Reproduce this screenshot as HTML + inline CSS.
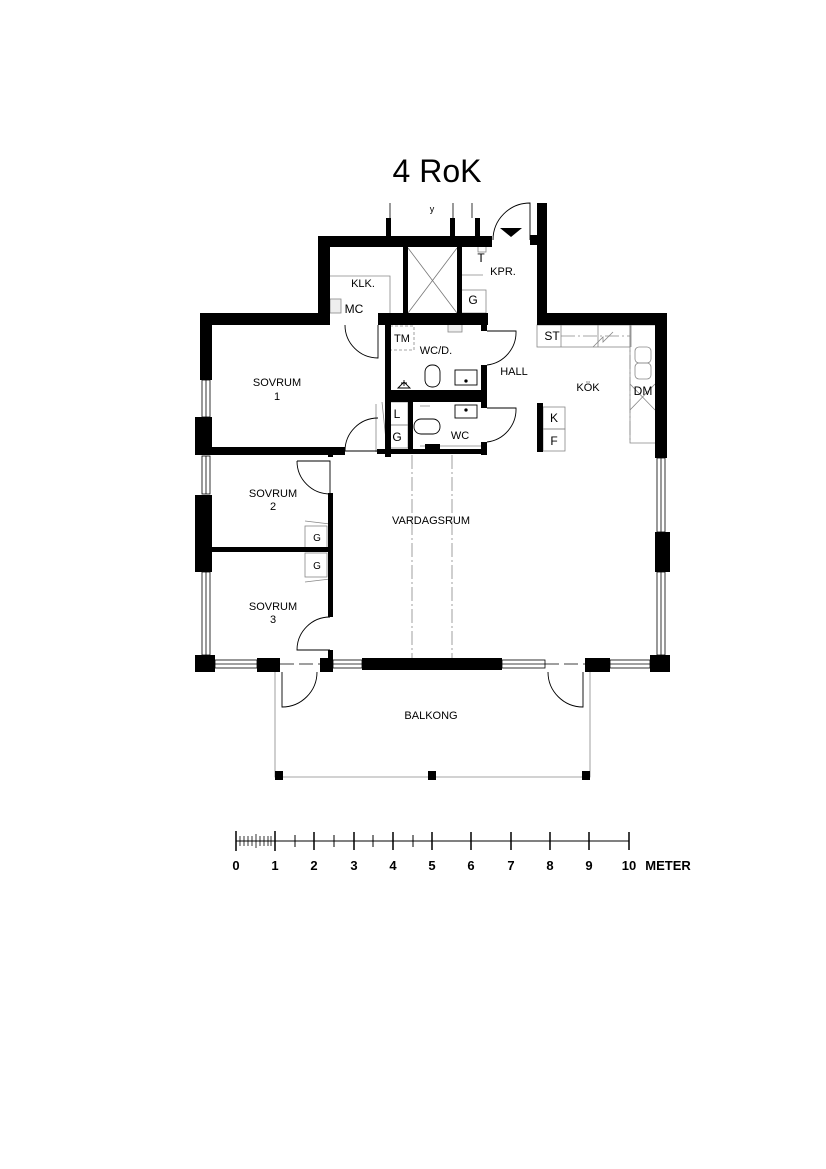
<!DOCTYPE html>
<html><head><meta charset="utf-8"><style>
html,body{margin:0;padding:0;background:#fff}
svg{display:block}
text{font-family:"Liberation Sans",Arial,sans-serif;fill:#000}
.l{font-size:11px}
</style></head><body>
<svg width="826" height="1169" viewBox="0 0 826 1169" xmlns="http://www.w3.org/2000/svg">
<rect width="826" height="1169" fill="#fff"/>
<text x="437" y="182" font-size="32" text-anchor="middle">4 RoK</text>

<!-- thin gray fittings -->
<g fill="none" stroke="#888" stroke-width="0.8">
 <path d="M330 276 H390 V313"/>
 <rect x="330" y="299" width="11" height="14" fill="#eee"/>
 <rect x="458" y="290" width="28" height="23"/>
 <path d="M461 252 V275 H483"/>
 <rect x="478" y="246" width="8" height="6"/>
 <rect x="390" y="326" width="24" height="24" stroke-dasharray="3,2"/>
 <rect x="448" y="324" width="14" height="8" fill="#eee"/>
 <path d="M382 402 L387 450 M376 404 V452"/>
 <rect x="388" y="402" width="20" height="23"/><rect x="388" y="425" width="20" height="23"/>
 <rect x="537" y="325" width="93" height="22"/>
 <path d="M630 325 V443 H655 M630 325 H655"/>
 <path d="M561 347 V325 M598 347 V325 M631 347 V325" />
 <path d="M630 384 L655 410 M655 384 L630 410"/>
 <rect x="635" y="347" width="16" height="16" rx="4"/><rect x="635" y="363" width="16" height="16" rx="4"/>
 <path d="M593 347 L603 337 L603 342 L613 332"/>
 <rect x="543" y="407" width="22" height="22"/><rect x="543" y="429" width="22" height="22"/>
 <rect x="305" y="526" width="22" height="23"/><rect x="305" y="553" width="22" height="24"/>
 <path d="M305 521 L330 524 M305 582 L330 579"/>
 <path d="M275 672 V777 H590 V672"/>
 <path d="M420 406 H430 M420 446 H485" />
</g>
<g fill="none" stroke="#888" stroke-width="0.8" stroke-dasharray="14,3,2,3">
 <path d="M412 455 V658 M452 455 V658"/>
 <path d="M561 336 H630 V443"/>
</g>
<path d="M408 248 L457 313 M457 248 L408 313" stroke="#777" stroke-width="0.8"/>

<!-- walls -->
<g fill="#000">
 <rect x="318" y="236" width="174" height="11"/>
 <rect x="318" y="236" width="12" height="89"/>
 <rect x="200" y="313" width="130" height="12"/>
 <rect x="200" y="313" width="12" height="67"/>
 <rect x="195" y="417" width="17" height="38"/>
 <rect x="195" y="495" width="17" height="77"/>
 <rect x="195" y="655" width="20" height="17"/>
 <rect x="257" y="658" width="23" height="14"/>
 <rect x="320" y="658" width="13" height="14"/>
 <rect x="362" y="658" width="140" height="12"/>
 <rect x="585" y="658" width="25" height="14"/>
 <rect x="650" y="655" width="20" height="17"/>
 <rect x="655" y="313" width="12" height="145"/>
 <rect x="655" y="532" width="15" height="40"/>
 <rect x="537" y="313" width="130" height="12"/>
 <rect x="537" y="203" width="10" height="122"/>
 <rect x="530" y="235" width="8" height="10"/>
 <rect x="386" y="218" width="5" height="19"/>
 <rect x="450" y="218" width="5" height="19"/>
 <rect x="475" y="218" width="5" height="19"/>
 <rect x="403" y="246" width="5" height="67"/>
 <rect x="457" y="246" width="5" height="67"/>
 <rect x="378" y="313" width="110" height="12"/>
 <rect x="385" y="313" width="6" height="144"/>
 <rect x="385" y="390" width="101" height="12"/>
 <rect x="481" y="313" width="6" height="18"/>
 <rect x="481" y="365" width="6" height="43"/>
 <rect x="481" y="442" width="6" height="13"/>
 <rect x="408" y="402" width="5" height="50"/>
 <rect x="377" y="449" width="108" height="5"/>
 <rect x="425" y="444" width="15" height="10"/>
 <rect x="200" y="447" width="145" height="8"/>
 <rect x="328" y="447" width="5" height="10"/>
 <rect x="212" y="547" width="121" height="5"/>
 <rect x="328" y="493" width="5" height="124"/>
 <rect x="328" y="650" width="5" height="8"/>
 <rect x="537" y="403" width="6" height="49"/>
 <path d="M500 228 H522 L511 237 Z"/>
 <rect x="275" y="771" width="8" height="9"/><rect x="428" y="771" width="8" height="9"/><rect x="582" y="771" width="8" height="9"/>
</g>
<!-- windows -->
<g fill="none" stroke="#000" stroke-width="0.8">
 <rect x="202" y="380" width="8" height="37"/><line x1="206" y1="380" x2="206" y2="417"/>
 <rect x="202" y="456" width="8" height="38"/><line x1="206" y1="456" x2="206" y2="494"/>
 <rect x="202" y="572" width="8" height="83"/><line x1="206" y1="572" x2="206" y2="655"/>
 <rect x="657" y="458" width="8" height="74"/><line x1="661" y1="458" x2="661" y2="532"/>
 <rect x="657" y="572" width="8" height="83"/><line x1="661" y1="572" x2="661" y2="655"/>
 <rect x="215" y="660" width="42" height="8"/><line x1="215" y1="664" x2="257" y2="664"/>
 <rect x="333" y="660" width="29" height="8"/><line x1="333" y1="664" x2="362" y2="664"/>
 <rect x="502" y="660" width="43" height="8"/><line x1="502" y1="664" x2="545" y2="664"/>
 <rect x="610" y="660" width="40" height="8"/><line x1="610" y1="664" x2="650" y2="664"/>
 <line x1="390" y1="203" x2="390" y2="218"/><line x1="472" y1="203" x2="472" y2="218"/>
 <line x1="453" y1="203" x2="453" y2="218"/>
</g>
<!-- doors -->
<g fill="none" stroke="#000" stroke-width="0.9">
 <path d="M493 240 A37 37 0 0 1 530 203 V240"/>
 <path d="M345 325 A33 33 0 0 0 378 358 V325"/>
 <path d="M487 331 H516 A33 33 0 0 1 487 365"/>
 <path d="M487 408 H516 A33 33 0 0 1 487 442"/>
 <path d="M378 418 A33 33 0 0 0 345 451 H378"/>
 <path d="M297 461 A33 33 0 0 0 330 494 V461 H297"/>
 <path d="M330 617 A33 33 0 0 0 297 650 H330"/>
 <path d="M317 672 A35 35 0 0 1 282 707 V672"/>
 <path d="M548 672 A35 35 0 0 0 583 707 V672"/>
 <rect x="425" y="365" width="15" height="22" rx="7"/>
 <rect x="455" y="370" width="22" height="15"/><circle cx="466" cy="381" r="1.2" fill="#000"/>
 <rect x="455" y="405" width="22" height="13"/><circle cx="466" cy="410" r="1.2" fill="#000"/>
 <rect x="414" y="419" width="26" height="15" rx="7"/>
 <path d="M398 388 L404 382 L410 388 Z M404 380 V386 M401 383 H407"/>
</g>
<g stroke="#000" stroke-width="0.8" stroke-dasharray="14,5">
 <line x1="280" y1="664" x2="320" y2="664"/><line x1="545" y1="664" x2="585" y2="664"/>
</g>

<!-- labels -->
<g class="l">
<text x="363" y="287" text-anchor="middle">KLK.</text>
<text x="354" y="313" text-anchor="middle" font-size="12">MC</text>
<text x="481" y="262" text-anchor="middle" font-size="12">T</text>
<text x="503" y="275" text-anchor="middle">KPR.</text>
<text x="473" y="304" text-anchor="middle" font-size="12">G</text>
<text x="402" y="342" text-anchor="middle" font-size="11">TM</text>
<text x="436" y="354" text-anchor="middle">WC/D.</text>
<text x="514" y="375" text-anchor="middle">HALL</text>
<text x="588" y="391" text-anchor="middle">KÖK</text>
<text x="552" y="340" text-anchor="middle" font-size="12">ST</text>
<text x="643" y="395" text-anchor="middle" font-size="12">DM</text>
<text x="554" y="422" text-anchor="middle" font-size="12">K</text>
<text x="554" y="445" text-anchor="middle" font-size="12">F</text>
<text x="397" y="418" text-anchor="middle" font-size="12">L</text>
<text x="397" y="441" text-anchor="middle" font-size="12">G</text>
<text x="460" y="439" text-anchor="middle">WC</text>
<text x="277" y="386" text-anchor="middle">SOVRUM</text>
<text x="277" y="400" text-anchor="middle">1</text>
<text x="273" y="497" text-anchor="middle">SOVRUM</text>
<text x="273" y="510" text-anchor="middle">2</text>
<text x="273" y="610" text-anchor="middle">SOVRUM</text>
<text x="273" y="623" text-anchor="middle">3</text>
<text x="431" y="524" text-anchor="middle">VARDAGSRUM</text>
<text x="431" y="719" text-anchor="middle">BALKONG</text>
<text x="317" y="541" text-anchor="middle" fill="#888" font-size="10">G</text>
<text x="317" y="569" text-anchor="middle" fill="#888" font-size="10">G</text>
<text x="432" y="212" text-anchor="middle" font-size="9">y</text>
</g>

<!-- scale -->
<g stroke="#000" stroke-width="1">
 <line x1="236" y1="841" x2="629" y2="841"/>
 <line x1="236" y1="831" x2="236" y2="851" stroke-width="1.5"/>
 <line x1="275" y1="831" x2="275" y2="851" stroke-width="1.5"/>
 <line x1="314" y1="832" x2="314" y2="850" stroke-width="1.5"/>
 <line x1="354" y1="832" x2="354" y2="850" stroke-width="1.5"/>
 <line x1="393" y1="832" x2="393" y2="850" stroke-width="1.5"/>
 <line x1="432" y1="832" x2="432" y2="850" stroke-width="1.5"/>
 <line x1="471" y1="832" x2="471" y2="850" stroke-width="1.5"/>
 <line x1="511" y1="832" x2="511" y2="850" stroke-width="1.5"/>
 <line x1="550" y1="832" x2="550" y2="850" stroke-width="1.5"/>
 <line x1="589" y1="832" x2="589" y2="850" stroke-width="1.5"/>
 <line x1="629" y1="832" x2="629" y2="850" stroke-width="1.5"/>
 <line x1="295" y1="835" x2="295" y2="847"/><line x1="334" y1="835" x2="334" y2="847"/>
 <line x1="373" y1="835" x2="373" y2="847"/><line x1="413" y1="835" x2="413" y2="847"/>
 <g stroke-width="0.8">
 <line x1="240" y1="836" x2="240" y2="846"/><line x1="244" y1="836" x2="244" y2="846"/>
 <line x1="248" y1="836" x2="248" y2="846"/><line x1="252" y1="836" x2="252" y2="846"/>
 <line x1="256" y1="834" x2="256" y2="848"/><line x1="260" y1="836" x2="260" y2="846"/>
 <line x1="264" y1="836" x2="264" y2="846"/><line x1="268" y1="836" x2="268" y2="846"/>
 <line x1="271" y1="836" x2="271" y2="846"/>
 </g>
</g>
<g font-size="13" font-weight="bold" text-anchor="middle">
<text x="236" y="870">0</text><text x="275" y="870">1</text><text x="314" y="870">2</text>
<text x="354" y="870">3</text><text x="393" y="870">4</text><text x="432" y="870">5</text>
<text x="471" y="870">6</text><text x="511" y="870">7</text><text x="550" y="870">8</text>
<text x="589" y="870">9</text><text x="629" y="870">10</text>
<text x="668" y="870">METER</text>
</g>
</svg>
</body></html>
